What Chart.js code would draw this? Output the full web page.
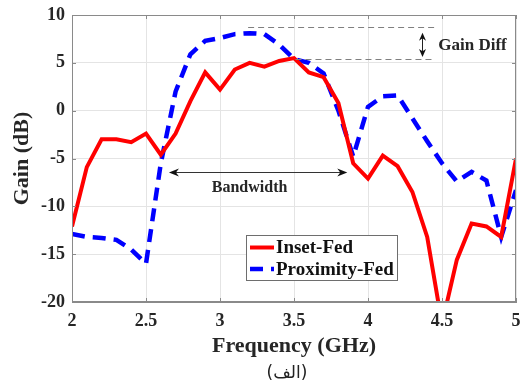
<!DOCTYPE html>
<html>
<head>
<meta charset="utf-8">
<script src="https://cdn.jsdelivr.net/npm/chart.js@4"></script>
<style>
  html, body { margin: 0; padding: 0; background: #fff; }
</style>
</head>
<body>
<canvas id="gainChart" width="522" height="392"></canvas>
<script>
  // Data (GHz / dB)
  const freq = [2.0, 2.1, 2.2, 2.3, 2.4, 2.5, 2.6, 2.7, 2.8, 2.9, 3.0, 3.1, 3.2, 3.3, 3.4, 3.5,
                3.6, 3.7, 3.8, 3.9, 4.0, 4.1, 4.2, 4.3, 4.4, 4.5, 4.6, 4.7, 4.8, 4.9, 5.0];
  const insetFed = [-12.1, -5.9, -3.0, -3.0, -3.3, -2.4, -4.6, -2.4, 1.0, 4.0, 2.2, 4.3, 5.0, 4.6, 5.2, 5.5,
                    4.0, 3.5, 0.8, -5.5, -7.1, -4.7, -5.8, -8.5, -13.2, -22.3, -15.6, -11.8, -12.1, -13.2, -5.0];
  const proximityFed = [-12.9, -13.2, -13.3, -13.5, -14.5, -16.0, -5.5, 2.0, 5.9, 7.3, 7.6, 8.0, 8.1, 8.0, 6.9, 5.4,
                        5.0, 3.9, 0.0, -4.8, 0.4, 1.5, 1.6, -0.8, -3.2, -5.5, -7.4, -6.4, -7.3, -13.2, -8.3];
  const seriesNames = ['Inset-Fed', 'Proximity-Fed'];
  const xTicks = [2, 2.5, 3, 3.5, 4, 4.5, 5];
  const yTicks = [-20, -15, -10, -5, 0, 5, 10];
  const caption = '(الف)';

  const serif = '"Liberation Serif", "Times New Roman", serif';
  const ink = '#262626';

  function toPoints(ys) {
    return freq.map((f, i) => ({ x: f, y: ys[i] }));
  }

  // filled arrow head pointing along angle, tip at (x, y)
  function arrowHead(ctx, x, y, angle, len, half) {
    ctx.save();
    ctx.translate(x, y);
    ctx.rotate(angle);
    ctx.beginPath();
    ctx.moveTo(0, 0);
    ctx.lineTo(-len, -half);
    ctx.lineTo(-len * 0.7, 0);
    ctx.lineTo(-len, half);
    ctx.closePath();
    ctx.fill();
    ctx.restore();
  }

  const extras = {
    id: 'extras',
    afterDatasetsDraw(chart) {
      const { ctx, chartArea: a, scales: { x, y } } = chart;
      ctx.save();

      // axes box + inward ticks
      ctx.strokeStyle = '#8a8a8a';
      ctx.lineWidth = 1;
      ctx.strokeRect(Math.round(a.left) + 0.5, Math.round(a.top) + 0.5,
                     Math.round(a.right - a.left) - 1, Math.round(a.bottom - a.top) - 1);
      ctx.beginPath();
      yTicks.forEach(v => {
        const py = Math.round(y.getPixelForValue(v)) + 0.5;
        ctx.moveTo(a.left, py); ctx.lineTo(a.left + 4, py);
        ctx.moveTo(a.right, py); ctx.lineTo(a.right - 4, py);
      });
      xTicks.forEach(v => {
        const px = Math.round(x.getPixelForValue(v)) + 0.5;
        ctx.moveTo(px, a.bottom); ctx.lineTo(px, a.bottom - 4);
        ctx.moveTo(px, a.top); ctx.lineTo(px, a.top + 4);
      });
      ctx.stroke();

      // Gain Diff guide lines
      ctx.strokeStyle = '#808080';
      ctx.setLineDash([6, 4]);
      ctx.beginPath();
      ctx.moveTo(x.getPixelForValue(3.19), Math.round(y.getPixelForValue(8.78)) + 0.5);
      ctx.lineTo(x.getPixelForValue(4.46), Math.round(y.getPixelForValue(8.78)) + 0.5);
      ctx.moveTo(x.getPixelForValue(3.51), Math.round(y.getPixelForValue(5.37)) + 0.5);
      ctx.lineTo(x.getPixelForValue(4.44), Math.round(y.getPixelForValue(5.37)) + 0.5);
      ctx.stroke();
      ctx.setLineDash([]);

      // Gain Diff double arrow
      ctx.strokeStyle = '#222';
      ctx.fillStyle = '#111';
      const gx = Math.round(x.getPixelForValue(4.367)) + 0.5;
      const gTop = y.getPixelForValue(8.15), gBot = y.getPixelForValue(5.62);
      ctx.beginPath();
      ctx.moveTo(gx, gTop + 4); ctx.lineTo(gx, gBot - 4);
      ctx.stroke();
      arrowHead(ctx, gx, gTop, -Math.PI / 2, 8, 3.5);
      arrowHead(ctx, gx, gBot, Math.PI / 2, 8, 3.5);
      ctx.font = 'bold 17px ' + serif;
      ctx.fillStyle = ink;
      ctx.textAlign = 'left';
      ctx.textBaseline = 'middle';
      ctx.fillText('Gain Diff', x.getPixelForValue(4.475), y.getPixelForValue(6.85));

      // Bandwidth double arrow
      ctx.strokeStyle = '#333';
      ctx.fillStyle = '#111';
      const by = Math.round(y.getPixelForValue(-6.44)) + 0.5;
      const bL = x.getPixelForValue(2.655), bR = x.getPixelForValue(3.86);
      ctx.beginPath();
      ctx.moveTo(bL + 4, by); ctx.lineTo(bR - 4, by);
      ctx.stroke();
      arrowHead(ctx, bL, by, Math.PI, 10, 4);
      arrowHead(ctx, bR, by, 0, 10, 4);
      ctx.font = 'bold 16px ' + serif;
      ctx.fillStyle = ink;
      ctx.textAlign = 'center';
      ctx.fillText('Bandwidth', x.getPixelForValue(3.2), y.getPixelForValue(-8.1));

      // legend
      const lx = 246, ly = 235, lw = 151, lh = 45;
      ctx.fillStyle = '#fff';
      ctx.fillRect(lx, ly, lw, lh);
      ctx.strokeStyle = '#6e6e6e';
      ctx.lineWidth = 1;
      ctx.strokeRect(lx + 0.5, ly + 0.5, lw, lh);
      ctx.font = 'bold 19px ' + serif;
      ctx.textAlign = 'left';
      chart.data.datasets.forEach((ds, i) => {
        const rowY = ly + 12.5 + i * 21.5;
        ctx.strokeStyle = ds.borderColor;
        ctx.lineWidth = ds.borderWidth;
        ctx.setLineDash(ds.borderDash || []);
        ctx.beginPath();
        ctx.moveTo(lx + 4, rowY); ctx.lineTo(lx + 28, rowY);
        ctx.stroke();
        ctx.setLineDash([]);
        ctx.fillStyle = '#111';
        ctx.fillText(ds.label, lx + 30, rowY + 1);
      });

      // caption
      ctx.font = '17px "DejaVu Sans", sans-serif';
      ctx.fillStyle = '#222';
      ctx.textAlign = 'center';
      ctx.fillText(caption, 287, 374);

      ctx.restore();
    }
  };

  const tickFont = { family: serif, size: 18, weight: 'bold' };
  const titleFont = { family: serif, size: 22, weight: 'bold' };

  new Chart(document.getElementById('gainChart'), {
    type: 'line',
    data: {
      datasets: [{
        label: seriesNames[0],
        data: toPoints(insetFed),
        borderColor: '#ff0000',
        borderWidth: 4,
        pointRadius: 0,
        tension: 0
      }, {
        label: seriesNames[1],
        data: toPoints(proximityFed),
        borderColor: '#0000ff',
        borderWidth: 4.5,
        borderDash: [13, 8],
        pointRadius: 0,
        tension: 0
      }]
    },
    options: {
      responsive: false,
      animation: false,
      layout: { padding: { left: 0, right: 6, top: 15, bottom: 30 } },
      plugins: { legend: { display: false }, tooltip: { enabled: false } },
      scales: {
        x: {
          type: 'linear', min: 2, max: 5,
          afterBuildTicks: s => { s.ticks = xTicks.map(v => ({ value: v })); },
          afterFit: s => { s.height = 60; s.paddingLeft = 0; s.paddingRight = 0; },
          ticks: { font: tickFont, color: ink, padding: 9, maxRotation: 0, callback: v => String(v) },
          grid: { color: '#e4e4e4', drawTicks: false },
          border: { color: '#8a8a8a' },
          title: { display: true, text: 'Frequency (GHz)', font: titleFont, color: ink, padding: { top: 0, bottom: 2 } }
        },
        y: {
          type: 'linear', min: -20, max: 10,
          afterBuildTicks: s => { s.ticks = yTicks.map(v => ({ value: v })); },
          afterFit: s => { s.width = 72; s.paddingTop = 0; s.paddingBottom = 0; },
          ticks: { font: tickFont, color: ink, padding: 7, callback: v => String(v) },
          grid: { color: '#e4e4e4', drawTicks: false },
          border: { color: '#8a8a8a' },
          title: { display: true, text: 'Gain (dB)', font: titleFont, color: ink, padding: { top: 9, bottom: 0 } }
        }
      }
    },
    plugins: [extras]
  });
</script>
</body>
</html>
